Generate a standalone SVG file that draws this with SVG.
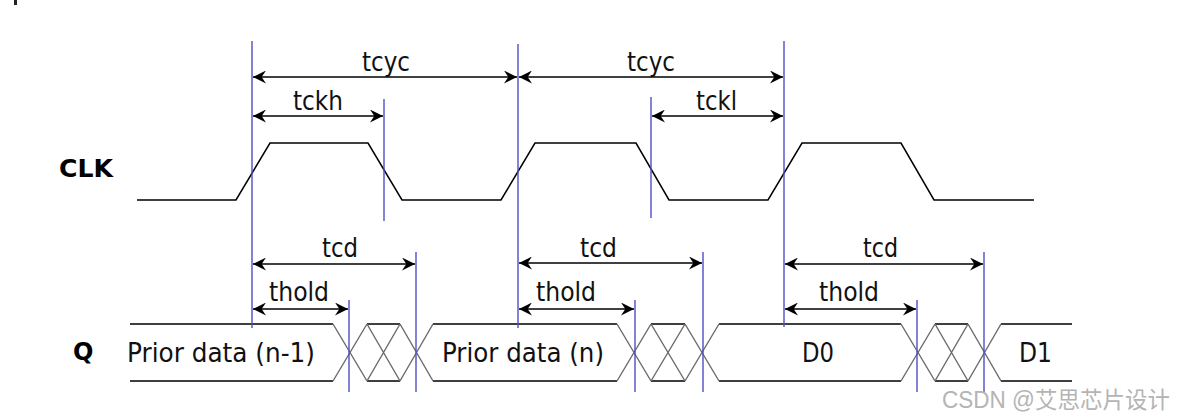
<svg xmlns="http://www.w3.org/2000/svg" width="1188" height="420" viewBox="0 0 1188 420">
<style>
.bg{fill:#ffffff}
.wave{fill:none;stroke:#000;stroke-width:1.5;stroke-linejoin:miter}
.diag{fill:none;stroke:#6a6a6a;stroke-width:1.4}
.ref{stroke:#4e4ec8;stroke-width:1.4;fill:none}
.dim{stroke:#000;stroke-width:1.5;fill:none;marker-start:url(#ah);marker-end:url(#ah)}
.lbl{font-family:"DejaVu Sans",Verdana,sans-serif;font-size:26px;fill:#111}
.sig{font-family:"DejaVu Sans",Verdana,sans-serif;font-size:24px;font-weight:bold;fill:#000}
.wm{font-family:"Liberation Sans","Noto Sans CJK SC",sans-serif;font-size:23px;fill:#b4b4b4}
</style>
<defs>
<marker id="ah" viewBox="0 0 12 12" refX="12" refY="6" markerWidth="13" markerHeight="13" markerUnits="userSpaceOnUse" orient="auto-start-reverse">
<path d="M0,0 L12,6 L0,12 L4,6 Z" fill="#000"/>
</marker>
</defs>
<rect class="bg" x="0" y="0" width="1188" height="420"/>
<rect x="14" y="0" width="3" height="5" fill="#222"/>

<g id="clk">
<text class="sig" x="59" y="177" textLength="54" lengthAdjust="spacingAndGlyphs">CLK</text>
<path class="wave" d="M137,200 L236,200 L270,143 L368,143 L402,200 L501,200 L535,143 L636,143 L669,200 L768,200 L802,143 L901,143 L934,200 L1034,200"/>
</g>

<g id="q">
<text class="sig" x="73" y="360">Q</text>
<path class="wave" d="M130,324 H333 M367,324 H400 M433,324 H617 M651,324 H685 M719,324 H901 M935,324 H968 M1001,324 H1072 M130,381 H333 M367,381 H400 M433,381 H617 M651,381 H685 M719,381 H901 M935,381 H968 M1001,381 H1072"/>
<path class="diag" d="M333,324 L367,381 M333,381 L367,324 M367,324 L400,381 M367,381 L400,324 M400,324 L433,381 M400,381 L433,324 M617,324 L651,381 M617,381 L651,324 M651,324 L685,381 M651,381 L685,324 M685,324 L719,381 M685,381 L719,324 M901,324 L935,381 M901,381 L935,324 M935,324 L968,381 M935,381 L968,324 M968,324 L1001,381 M968,381 L1001,324"/>
<text class="lbl" x="127" y="362" textLength="188" lengthAdjust="spacingAndGlyphs">Prior data (n-1)</text>
<text class="lbl" x="442" y="362" textLength="162" lengthAdjust="spacingAndGlyphs">Prior data (n)</text>
<text class="lbl" x="802" y="362" textLength="32" lengthAdjust="spacingAndGlyphs">D0</text>
<text class="lbl" x="1019" y="362" textLength="33" lengthAdjust="spacingAndGlyphs">D1</text>
</g>

<g id="refs">
<line class="ref" x1="252" y1="41" x2="252" y2="328"/>
<line class="ref" x1="384" y1="99" x2="384" y2="221"/>
<line class="ref" x1="518" y1="44" x2="518" y2="328"/>
<line class="ref" x1="651" y1="97" x2="651" y2="218"/>
<line class="ref" x1="784" y1="41" x2="784" y2="327"/>
<line class="ref" x1="349" y1="300" x2="349" y2="392"/>
<line class="ref" x1="416" y1="252" x2="416" y2="392"/>
<line class="ref" x1="635" y1="300" x2="635" y2="392"/>
<line class="ref" x1="703" y1="252" x2="703" y2="392"/>
<line class="ref" x1="917" y1="300" x2="917" y2="392"/>
<line class="ref" x1="984" y1="252" x2="984" y2="392"/>
</g>

<g id="connectors">
<line class="dim" x1="253" y1="77" x2="517" y2="77"/>
<line class="dim" x1="519" y1="77" x2="783" y2="77"/>
<line class="dim" x1="253" y1="116" x2="383" y2="116"/>
<line class="dim" x1="652" y1="116" x2="783" y2="116"/>
<line class="dim" x1="253" y1="264" x2="415" y2="264"/>
<line class="dim" x1="519" y1="263" x2="702" y2="263"/>
<line class="dim" x1="785" y1="264" x2="983" y2="264"/>
<line class="dim" x1="253" y1="309" x2="348" y2="309"/>
<line class="dim" x1="519" y1="309" x2="634" y2="309"/>
<line class="dim" x1="785" y1="309" x2="916" y2="309"/>
</g>

<g id="labels">
<text class="lbl" x="362" y="71" textLength="48" lengthAdjust="spacingAndGlyphs">tcyc</text>
<text class="lbl" x="627" y="71" textLength="48" lengthAdjust="spacingAndGlyphs">tcyc</text>
<text class="lbl" x="293" y="110" textLength="50" lengthAdjust="spacingAndGlyphs">tckh</text>
<text class="lbl" x="696" y="110" textLength="41" lengthAdjust="spacingAndGlyphs">tckl</text>
<text class="lbl" x="322" y="257" textLength="36" lengthAdjust="spacingAndGlyphs">tcd</text>
<text class="lbl" x="580" y="257" textLength="37" lengthAdjust="spacingAndGlyphs">tcd</text>
<text class="lbl" x="863" y="257" textLength="35" lengthAdjust="spacingAndGlyphs">tcd</text>
<text class="lbl" x="269" y="301" textLength="60" lengthAdjust="spacingAndGlyphs">thold</text>
<text class="lbl" x="536" y="301" textLength="60" lengthAdjust="spacingAndGlyphs">thold</text>
<text class="lbl" x="819" y="301" textLength="60" lengthAdjust="spacingAndGlyphs">thold</text>
</g>

<text class="wm" x="942" y="408" textLength="228" lengthAdjust="spacingAndGlyphs">CSDN @艾思芯片设计</text>
</svg>
